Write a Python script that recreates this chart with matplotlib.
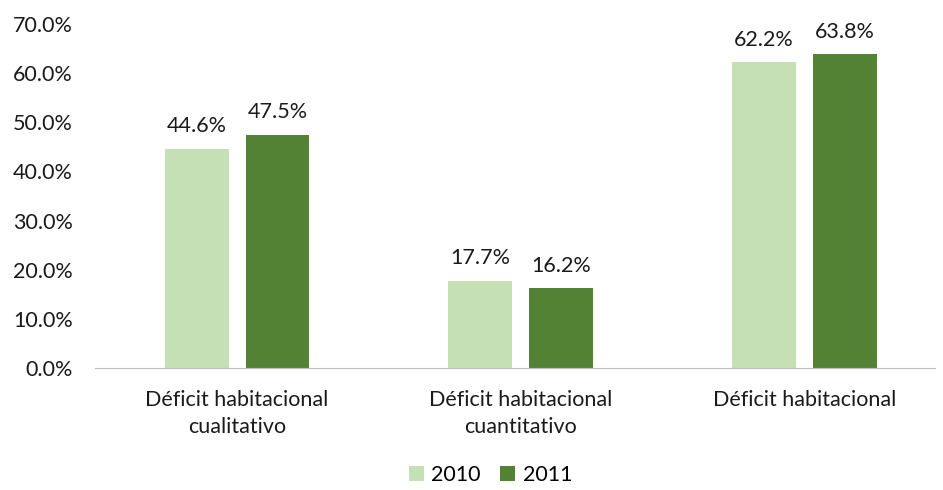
import numpy as np
import matplotlib
matplotlib.use("Agg")
import matplotlib.pyplot as plt
from matplotlib.ticker import PercentFormatter

categories = ["Déficit habitacional\ncualitativo", "Déficit habitacional\ncuantitativo", "Déficit habitacional"]
years = ["2010", "2011"]
values_2010 = [44.6, 17.7, 62.2]
values_2011 = [47.5, 16.2, 63.8]

colors = ["#C5E0B4", "#548235"]
text_color = "#1a1a1a"
fs = 15.5

plt.rcParams['font.family'] = ['Lato', 'DejaVu Sans']

fig = plt.figure(figsize=(9.43, 4.9), dpi=100)
ax = fig.add_axes([0.101, 0.249, 0.890, 0.702])

x = np.arange(len(categories))
width = 0.225
offset = 0.1426

for vals, col, lab, sign in zip([values_2010, values_2011], colors, years, [-1, 1]):
    bars = ax.bar(x + sign * offset, vals, width, color=col, label=lab)
    for b, v in zip(bars, vals):
        ax.text(b.get_x() + b.get_width() / 2, v + 3.4, f"{v:.1f}%",
                ha='center', va='baseline', fontsize=fs, color=text_color)

ax.set_xlim(-0.5, 2.458)
ax.set_ylim(0, 70)
ax.set_yticks(np.arange(0, 71, 10))
ax.yaxis.set_major_formatter(PercentFormatter(100, decimals=1))
ax.set_xticks(x)
ax.set_xticklabels(categories, fontsize=fs, color=text_color, linespacing=1.45)
ax.tick_params(axis='y', labelsize=fs, colors=text_color, length=0, pad=16)
ax.tick_params(axis='x', length=0, pad=16)

for s in ['top', 'right', 'left']:
    ax.spines[s].set_visible(False)
ax.spines['bottom'].set_color('#BFBFBF')

fig.legend(loc='lower center', ncol=2, frameon=False, fontsize=fs,
           bbox_to_anchor=(0.52, -0.03), handlelength=0.7, handleheight=0.7,
           columnspacing=0.9, handletextpad=0.35)

fig.savefig("out.png", dpi=100)
